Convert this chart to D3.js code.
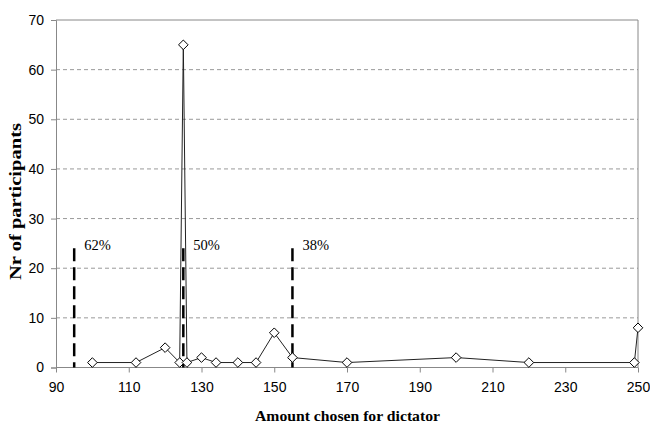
<!DOCTYPE html>
<html><head><meta charset="utf-8">
<script src="https://cdn.jsdelivr.net/npm/d3@7"></script>
<style>body{margin:0;background:#fff}svg{display:block}</style>
</head><body>
<svg id="c" width="650" height="423"></svg>
<script>
const amounts = [100,112,120,124,125,126,130,134,140,145,150,155,170,200,220,249,250];
const counts  = [1,1,4,1,65,1,2,1,1,1,7,2,1,2,1,1,8];
const markerX = [95,125,155];
const markerTop = 24;
const markerLabels = ["62%","50%","38%"];
const xTicks = [90,110,130,150,170,190,210,230,250];
const yTicks = [0,10,20,30,40,50,60,70];

const svg = d3.select("#c");
const L=56, R=638, T=20, B=367.5;
const x = d3.scaleLinear().domain([90,250]).range([L,R]);
const y = d3.scaleLinear().domain([0,70]).range([B,T]);
const serif = "'Liberation Serif','Times New Roman',Times,serif";

// grid
svg.append("g").selectAll("line").data(yTicks.filter(d=>d>0&&d<70)).join("line")
  .attr("x1",L).attr("x2",R).attr("y1",d=>y(d)).attr("y2",d=>y(d))
  .attr("stroke","#999").attr("stroke-width",1).attr("stroke-dasharray","4,3");
// top & right border
svg.append("line").attr("x1",L).attr("x2",R).attr("y1",y(70)).attr("y2",y(70)).attr("stroke","#888");
svg.append("line").attr("x1",R).attr("x2",R).attr("y1",y(70)).attr("y2",y(0)).attr("stroke","#888");

// axes
const yAx = svg.append("g").attr("transform",`translate(${L},0)`)
  .call(d3.axisLeft(y).tickValues(yTicks).tickSize(5).tickPadding(7));
const xAx = svg.append("g").attr("transform",`translate(0,${B})`)
  .call(d3.axisBottom(x).tickValues(xTicks).tickSize(5).tickPadding(10));
[yAx,xAx].forEach(g=>{
  g.selectAll("path,line").attr("stroke","#888");
  g.selectAll("text").attr("font-family","'Liberation Sans',Arial,sans-serif").attr("font-size",14).attr("fill","#000");
});
xAx.select(".domain").attr("d",`M${L},0H${R}`);

// markers (dashed vertical lines)
svg.append("g").selectAll("line").data(markerX).join("line")
  .attr("x1",d=>x(d)).attr("x2",d=>x(d)).attr("y1",y(markerTop)).attr("y2",y(0))
  .attr("stroke","#000").attr("stroke-width",2.5).attr("stroke-dasharray","13,6");
svg.append("g").selectAll("text").data(markerX).join("text")
  .attr("x",d=>x(d)+10).attr("y",250)
  .attr("font-family",serif).attr("font-size",14.5)
  .text((d,i)=>markerLabels[i]);

// line
const pts = amounts.map((a,i)=>[a,counts[i]]);
svg.append("path").datum(pts)
  .attr("d",d3.line().x(d=>x(d[0])).y(d=>y(d[1])))
  .attr("fill","none").attr("stroke","#222").attr("stroke-width",1);
const s=4.8;
svg.append("g").selectAll("path").data(pts).join("path")
  .attr("d",d=>{const cx=x(d[0]),cy=y(d[1]);return `M${cx},${cy-s}L${cx+s},${cy}L${cx},${cy+s}L${cx-s},${cy}Z`;})
  .attr("fill","#fff").attr("stroke","#000").attr("stroke-width",1);

// titles
svg.append("text").attr("x",347.5).attr("y",421).attr("text-anchor","middle")
  .attr("font-family",serif).attr("font-weight","bold").attr("font-size",15.5)
  .attr("textLength",185).attr("lengthAdjust","spacingAndGlyphs")
  .text("Amount chosen for dictator");
svg.append("text").attr("transform","translate(21,201.5) rotate(-90)").attr("text-anchor","middle")
  .attr("font-family",serif).attr("font-weight","bold").attr("font-size",16)
  .attr("textLength",157).attr("lengthAdjust","spacingAndGlyphs")
  .text("Nr of participants");
</script>
</body></html>
